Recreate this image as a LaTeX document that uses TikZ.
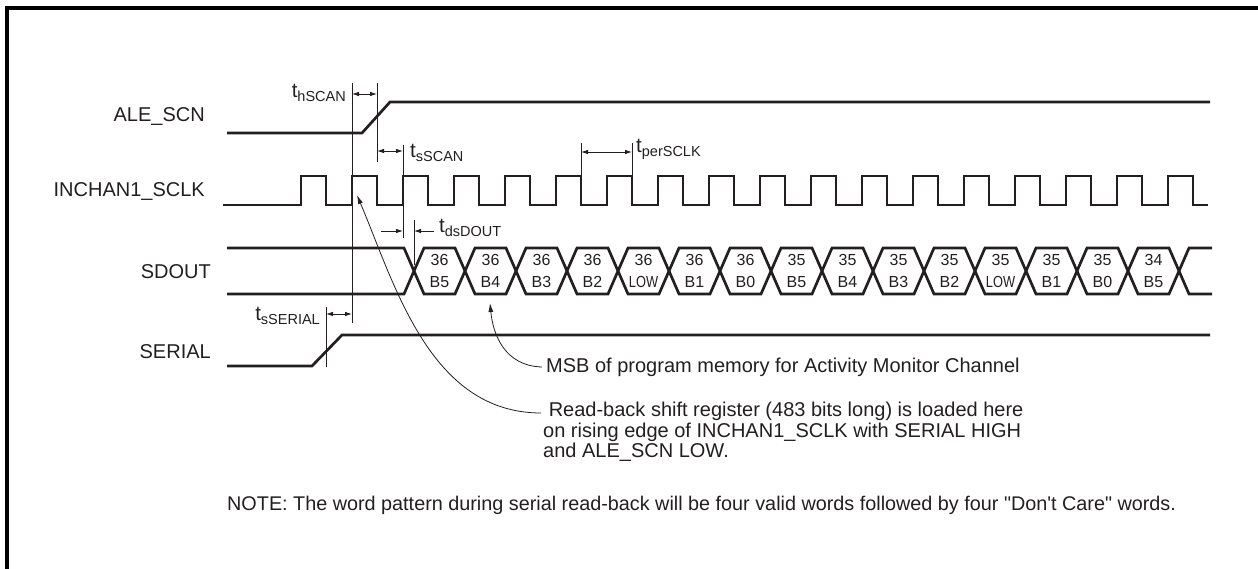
\documentclass[tikz,border=0pt]{standalone}
\usepackage{fontspec}
\usepackage{graphicx}
\setmainfont{Liberation Sans}
\newfontfamily\plainsans{Liberation Sans}
\usetikzlibrary{arrows.meta}
\definecolor{ink}{RGB}{35,31,32}
\newcommand{\tsig}[1]{{\fontsize{20.5}{20.5}\selectfont t}\raisebox{-4pt}{\fontsize{14.5}{14.5}\selectfont #1}}
\newcommand{\lowtxt}{\scalebox{0.8}[1]{LOW}}
\begin{document}
\begin{tikzpicture}[x=1pt,y=-1pt,
  sig/.style={line width=2.7pt, draw=ink, line join=miter},
  thin/.style={line width=0.8pt, draw=ink},
  dimarr/.style={thin, {Latex[length=7pt,width=4.5pt]}-{Latex[length=7pt,width=4.5pt]}},
  onearr/.style={thin, -{Latex[length=7pt,width=4.5pt]}},
  note/.style={thin, -{Latex[length=9pt,width=5pt]}},
  lbl/.style={font=\fontsize{20}{20.5}\selectfont, text=ink, inner sep=0pt},
  cell/.style={font=\fontsize{16}{21.5}\selectfont, text=ink, inner sep=0pt, align=center}]
\useasboundingbox (0,0) rectangle (1258,569);
% frame
\draw[line width=4pt, black] (7,600) -- (7,8) -- (1270,8);
% signal names
\node[lbl, anchor=east] (nale) at (205,117) {ALE\_SCN};
\node[lbl, anchor=east] (nclk) at (205,192) {INCHAN1\_SCLK};
\node[lbl, anchor=east] (nsd)  at (211,272) {SDOUT};
\node[lbl, anchor=east] (nser) at (211,352) {SERIAL};
% ALE_SCN
\draw[sig] (227,133) -- (362,133) -- (390,102) -- (1210,102);
% clock
\draw[sig] (223,205) foreach \k in {0,...,17} { -- ({301+51*\k},205) -- ({301+51*\k},176) -- ({326+51*\k},176) -- ({326+51*\k},205) } -- (1208,205);
% SDOUT
\draw[sig] (227,248) -- (404,248) foreach \k in {0,...,14} { -- ({424+51*\k},{271+23*(1-2*mod(\k,2))}) -- ({455+51*\k},{271+23*(1-2*mod(\k,2))}) } -- (1189,248) -- (1212,248);
\draw[sig] (227,294) -- (404,294) foreach \k in {0,...,14} { -- ({424+51*\k},{271-23*(1-2*mod(\k,2))}) -- ({455+51*\k},{271-23*(1-2*mod(\k,2))}) } -- (1189,294) -- (1212,294);
\foreach \n/\b [count=\k from 0] in {36/B5,36/B4,36/B3,36/B2,36/\lowtxt,36/B1,36/B0,35/B5,35/B4,35/B3,35/B2,35/\lowtxt,35/B1,35/B0,34/B5}
  \node[cell] (cell\k) at ({439.5+51*\k},271) {\n\\\b};
% SERIAL
\draw[sig] (227,366) -- (312,366) -- (342,335) -- (1210,335);
% timing reference lines
\draw[thin] (352,83) -- (352,323);
\draw[thin] (377,83) -- (377,162);
\draw[thin] (403,145) -- (403,238);
\draw[thin] (414,220) -- (414,265);
\draw[thin] (581,143) -- (581,176);
\draw[thin] (632,143) -- (632,176);
\draw[thin] (326,307) -- (326,367);
% dimension arrows
\draw[dimarr] (352,94) -- (377,94);
\draw[dimarr] (377,151) -- (403,151);
\draw[dimarr] (581,152) -- (632,152);
\draw[dimarr] (326,314) -- (352,314);
\draw[onearr] (381,231) -- (403,231);
\draw[onearr] (434,231) -- (414,231);
% timing labels
\node[lbl, anchor=base east] (lh) at (346,98) {\tsig{hSCAN}};
\node[lbl, anchor=base west] (ls) at (410,158) {\tsig{sSCAN}};
\node[lbl, anchor=base west] (lp) at (636,153) {\tsig{perSCLK}};
\node[lbl, anchor=base west] (ld) at (439,233) {\tsig{dsDOUT}};
\node[lbl, anchor=base east] (lser) at (320,320) {\tsig{sSERIAL}};
% annotations
\node[lbl, anchor=west] (msb) at (546,367) {MSB of program memory for Activity Monitor Channel};
\node[lbl, anchor=west] (rb1) at (543,411) {\ Read-back shift register (483 bits long) is loaded here};
\node[lbl, anchor=west] (rb2) at (543,432) {on rising edge of INCHAN1\_SCLK with SERIAL HIGH};
\node[lbl, anchor=west] (rb3) at (543,452) {and ALE\_SCN LOW.};
\coordinate (msbtip) at (490,303);
\coordinate (rbtip) at (357,195);
\draw[note] (msb.west) ++(-4,0) .. controls (505,366) and (493,335) .. (msbtip);
\draw[note] (rb1.west) ++(-2,2) .. controls (430,413) and (395,285) .. (rbtip);
% note
\node[lbl, anchor=west, font=\plainsans\fontsize{19.8}{20.5}\selectfont] (nt) at (227,505) {NOTE: The word pattern during serial read-back will be four valid words followed by four "Don't Care" words.};
\end{tikzpicture}
\end{document}
